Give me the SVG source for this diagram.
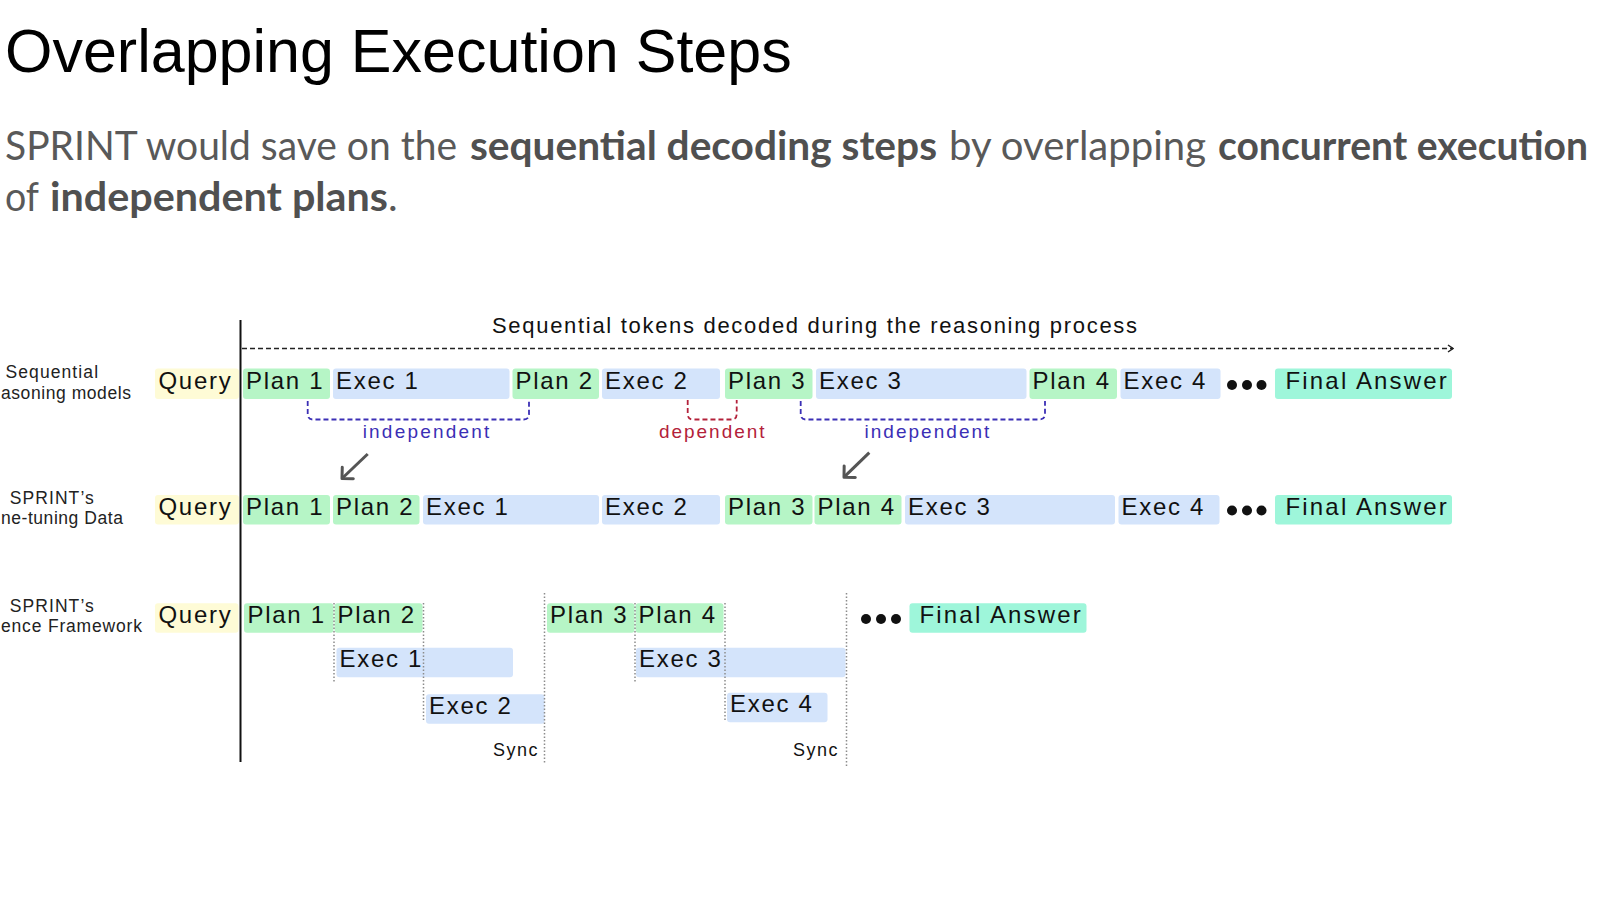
<svg xmlns="http://www.w3.org/2000/svg" width="1600" height="899" viewBox="0 0 1600 899">
  <defs>
    <style>
      .title{font-family:"Liberation Sans",Arial,sans-serif;font-size:61px;fill:#000}
      .sub{font-family:Lato,"Open Sans",sans-serif;font-size:41px;fill:#595959}
      .b{font-weight:700;fill:#505050}
      .bq{fill:#fefbd6}
      .bp{fill:#b6f5c6}
      .be{fill:#d4e4fb}
      .bf{fill:#9ef6da}
      .lbl{font-family:"Liberation Sans",Arial,sans-serif;font-size:24px;letter-spacing:1.7px;fill:#111}
      .side{font-family:"Liberation Sans",Arial,sans-serif;font-size:17.5px;letter-spacing:1.1px;fill:#222}
      .top{font-family:"Liberation Sans",Arial,sans-serif;font-size:22px;fill:#111}
      .note{font-family:"Liberation Sans",Arial,sans-serif;font-size:19px}
      .ind{fill:#3b2fb5}
      .dep{fill:#b3213a}
      .br{fill:none;stroke-width:1.8;stroke-dasharray:5 3}
      .sync{stroke:#8c8c8c;stroke-width:1.5;stroke-dasharray:1.5 2}
      .synct{font-family:"Liberation Sans",Arial,sans-serif;font-size:18px;letter-spacing:1.5px;fill:#111}
      .dot{fill:#111}
      .arr{stroke:#555;stroke-width:3;fill:none}
    </style>
    <marker id="ah" viewBox="0 0 12 24" refX="10" refY="12" markerWidth="12" markerHeight="24" orient="auto" markerUnits="userSpaceOnUse">
      <path d="M2,4 L10,12 L2,20" fill="none" stroke="#555" stroke-width="3" stroke-linecap="round" stroke-linejoin="round"/>
    </marker>
    <marker id="ahs" viewBox="0 0 8 10" refX="7" refY="5" markerWidth="8" markerHeight="10" orient="auto" markerUnits="userSpaceOnUse">
      <path d="M2,1.5 L7,5 L2,8.5" fill="none" stroke="#222" stroke-width="1.5"/>
    </marker>
  </defs>
  <rect width="1600" height="899" fill="#ffffff"/>

  <text class="title" x="5" y="72">Overlapping Execution Steps</text>
  <text class="sub" y="160"><tspan x="5" textLength="452" lengthAdjust="spacingAndGlyphs">SPRINT would save on the</tspan><tspan class="b" x="470" textLength="467" lengthAdjust="spacingAndGlyphs">sequential decoding steps</tspan><tspan x="949" textLength="257" lengthAdjust="spacingAndGlyphs">by overlapping</tspan><tspan class="b" x="1218" font-size="39.5" textLength="370" lengthAdjust="spacingAndGlyphs">concurrent execution</tspan></text>
  <text class="sub" y="211"><tspan x="5" textLength="34" lengthAdjust="spacingAndGlyphs">of</tspan><tspan class="b" x="50" textLength="338" lengthAdjust="spacingAndGlyphs">independent plans</tspan><tspan x="388">.</tspan></text>

  <g id="side-labels">
    <text class="side" x="52.3" y="378" text-anchor="middle">Sequential</text>
    <text class="side" x="1" y="399" textLength="131" lengthAdjust="spacing">asoning models</text>
    <text class="side" x="52.3" y="503.5" text-anchor="middle">SPRINT’s</text>
    <text class="side" x="1" y="524" textLength="123" lengthAdjust="spacing">ne-tuning Data</text>
    <text class="side" x="52.3" y="611.7" text-anchor="middle">SPRINT’s</text>
    <text class="side" x="1" y="632.3" textLength="142" lengthAdjust="spacing">ence Framework</text>
  </g>

  <g id="axes">
    <line x1="240.5" y1="320" x2="240.5" y2="762" stroke="#111" stroke-width="2"/>
    <line x1="242" y1="348.5" x2="1453" y2="348.5" stroke="#222" stroke-width="1.5" stroke-dasharray="5 3" marker-end="url(#ahs)"/>
    <text class="top" x="492" y="332.5" textLength="645" lengthAdjust="spacing">Sequential tokens decoded during the reasoning process</text>
  </g>

  <!-- Row 1: Sequential reasoning models -->
  <g id="r1-query"><rect class="bq" x="155" y="368.5" width="84" height="30.5" rx="3"/><text class="lbl" x="158.5" y="389">Query</text></g>
  <g id="r1-plan1"><rect class="bp" x="243" y="368.5" width="87" height="30.5" rx="3"/><text class="lbl" x="246" y="389">Plan 1</text></g>
  <g id="r1-exec1"><rect class="be" x="333" y="368.5" width="176.5" height="30.5" rx="3"/><text class="lbl" x="336" y="389">Exec 1</text></g>
  <g id="r1-plan2"><rect class="bp" x="512.5" y="368.5" width="86.5" height="30.5" rx="3"/><text class="lbl" x="515.5" y="389">Plan 2</text></g>
  <g id="r1-exec2"><rect class="be" x="602" y="368.5" width="118" height="30.5" rx="3"/><text class="lbl" x="605" y="389">Exec 2</text></g>
  <g id="r1-plan3"><rect class="bp" x="725" y="368.5" width="87.5" height="30.5" rx="3"/><text class="lbl" x="728" y="389">Plan 3</text></g>
  <g id="r1-exec3"><rect class="be" x="816" y="368.5" width="210.5" height="30.5" rx="3"/><text class="lbl" x="819" y="389">Exec 3</text></g>
  <g id="r1-plan4"><rect class="bp" x="1029.5" y="368.5" width="87.5" height="30.5" rx="3"/><text class="lbl" x="1032.5" y="389">Plan 4</text></g>
  <g id="r1-exec4"><rect class="be" x="1120.5" y="368.5" width="100" height="30.5" rx="3"/><text class="lbl" x="1123.5" y="389">Exec 4</text></g>
  <g id="r1-dots"><circle class="dot" cx="1232" cy="385" r="5"/><circle class="dot" cx="1247" cy="385" r="5"/><circle class="dot" cx="1261.5" cy="385" r="5"/></g>
  <g id="r1-final"><rect class="bf" x="1275" y="368.5" width="177" height="30.5" rx="3"/><text class="lbl" x="1285.5" y="389" textLength="163" lengthAdjust="spacing">Final Answer</text></g>

  <!-- Row 2: SPRINT's fine-tuning data -->
  <g id="r2-query"><rect class="bq" x="155" y="495" width="84" height="29.5" rx="3"/><text class="lbl" x="158.5" y="514.5">Query</text></g>
  <g id="r2-plan1"><rect class="bp" x="243" y="495" width="87" height="29.5" rx="3"/><text class="lbl" x="246" y="514.5">Plan 1</text></g>
  <g id="r2-plan2"><rect class="bp" x="333" y="495" width="86.5" height="29.5" rx="3"/><text class="lbl" x="336" y="514.5">Plan 2</text></g>
  <g id="r2-exec1"><rect class="be" x="423" y="495" width="176" height="29.5" rx="3"/><text class="lbl" x="426" y="514.5">Exec 1</text></g>
  <g id="r2-exec2"><rect class="be" x="602" y="495" width="118" height="29.5" rx="3"/><text class="lbl" x="605" y="514.5">Exec 2</text></g>
  <g id="r2-plan3"><rect class="bp" x="725" y="495" width="87.5" height="29.5" rx="3"/><text class="lbl" x="728" y="514.5">Plan 3</text></g>
  <g id="r2-plan4"><rect class="bp" x="814.5" y="495" width="87" height="29.5" rx="3"/><text class="lbl" x="817.5" y="514.5">Plan 4</text></g>
  <g id="r2-exec3"><rect class="be" x="905" y="495" width="210" height="29.5" rx="3"/><text class="lbl" x="908" y="514.5">Exec 3</text></g>
  <g id="r2-exec4"><rect class="be" x="1118.5" y="495" width="101" height="29.5" rx="3"/><text class="lbl" x="1121.5" y="514.5">Exec 4</text></g>
  <g id="r2-dots"><circle class="dot" cx="1232" cy="510.5" r="5"/><circle class="dot" cx="1247" cy="510.5" r="5"/><circle class="dot" cx="1261.5" cy="510.5" r="5"/></g>
  <g id="r2-final"><rect class="bf" x="1275" y="495" width="177" height="29.5" rx="3"/><text class="lbl" x="1285.5" y="514.5" textLength="163" lengthAdjust="spacing">Final Answer</text></g>

  <!-- Row 3: SPRINT's inference framework -->
  <g id="r3-query"><rect class="bq" x="155" y="603.3" width="83.5" height="29.5" rx="3"/><text class="lbl" x="158.5" y="623">Query</text></g>
  <g id="r3-plan1"><rect class="bp" x="244" y="603.3" width="89.5" height="29.5" rx="3"/><text class="lbl" x="247.5" y="623">Plan 1</text></g>
  <g id="r3-plan2"><rect class="bp" x="334.5" y="603.3" width="88" height="29.5" rx="3"/><text class="lbl" x="337.5" y="623">Plan 2</text></g>
  <g id="r3-exec1"><rect class="be" x="336.5" y="647.7" width="176.5" height="29.5" rx="3"/><text class="lbl" x="339.5" y="667">Exec 1</text></g>
  <g id="r3-exec2"><rect class="be" x="426" y="694.3" width="118.5" height="29.5" rx="3"/><text class="lbl" x="429" y="713.5">Exec 2</text></g>
  <g id="r3-plan3"><rect class="bp" x="547" y="603.3" width="87.5" height="29.5" rx="3"/><text class="lbl" x="550" y="623">Plan 3</text></g>
  <g id="r3-plan4"><rect class="bp" x="635.5" y="603.3" width="88" height="29.5" rx="3"/><text class="lbl" x="638.5" y="623">Plan 4</text></g>
  <g id="r3-exec3"><rect class="be" x="636" y="647.7" width="209.5" height="29.5" rx="3"/><text class="lbl" x="639" y="667">Exec 3</text></g>
  <g id="r3-exec4"><rect class="be" x="727" y="692.7" width="100.5" height="29.5" rx="3"/><text class="lbl" x="730" y="712">Exec 4</text></g>
  <g id="r3-dots"><circle class="dot" cx="866" cy="619" r="5"/><circle class="dot" cx="881" cy="619" r="5"/><circle class="dot" cx="896" cy="619" r="5"/></g>
  <g id="r3-final"><rect class="bf" x="909.5" y="603.3" width="177" height="29.5" rx="3"/><text class="lbl" x="919.5" y="623" textLength="163" lengthAdjust="spacing">Final Answer</text></g>

  <g id="sync-lines">
    <line class="sync" x1="334" y1="603" x2="334" y2="683"/>
    <line class="sync" x1="423.5" y1="603" x2="423.5" y2="721"/>
    <line class="sync" x1="544.5" y1="593" x2="544.5" y2="764"/>
    <line class="sync" x1="635" y1="603" x2="635" y2="683"/>
    <line class="sync" x1="725" y1="603" x2="725" y2="721"/>
    <line class="sync" x1="846.5" y1="593" x2="846.5" y2="767"/>
    <text class="synct" x="539" y="755.5" text-anchor="end">Sync</text>
    <text class="synct" x="839" y="755.5" text-anchor="end">Sync</text>
  </g>

  <g id="connectors">
    <path class="br" stroke="#3b2fb5" d="M307.7,401 V414 Q307.7,419.5 313,419.5 H523.7 Q529,419.5 529,414 V401"/>
    <path class="br" stroke="#b3213a" d="M687.7,400 V414 Q687.7,419.5 693,419.5 H731.4 Q736.7,419.5 736.7,414 V400"/>
    <path class="br" stroke="#3b2fb5" d="M800.7,401 V414 Q800.7,419.5 806,419.5 H1039.7 Q1045,419.5 1045,414 V401"/>
    <text class="note ind" x="362.7" y="438" textLength="126.5" lengthAdjust="spacing">independent</text>
    <text class="note dep" x="659" y="438" textLength="105.5" lengthAdjust="spacing">dependent</text>
    <text class="note ind" x="864.4" y="438" textLength="125" lengthAdjust="spacing">independent</text>
    <line class="arr" x1="367.7" y1="454" x2="342" y2="478.5" marker-end="url(#ah)"/>
    <line class="arr" x1="869.3" y1="452.7" x2="844" y2="477.2" marker-end="url(#ah)"/>
  </g>
</svg>
